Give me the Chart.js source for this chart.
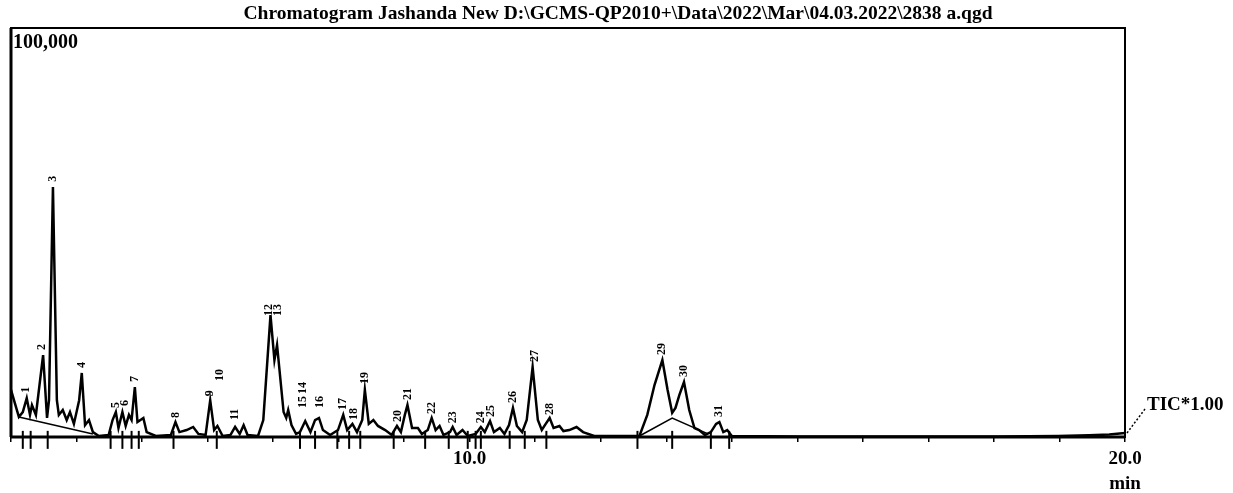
<!DOCTYPE html>
<html>
<head>
<meta charset="utf-8">
<script src="https://cdn.jsdelivr.net/npm/chart.js@4"></script>
<style>
html,body{margin:0;padding:0;background:#fff;}
#wrap{width:1233px;height:493px;position:relative;}
</style>
</head>
<body>
<div id="wrap"><canvas id="c" width="1233" height="493"></canvas></div>
<script>
// ---- data (retention time in min, intensity in counts) ----
const traceTimes = [3.00,3.12,3.18,3.24,3.29,3.32,3.38,3.49,3.55,3.58,3.64,3.70,3.73,3.79,3.85,3.90,3.96,4.04,4.08,4.13,4.19,4.25,4.34,4.49,4.55,4.60,4.64,4.70,4.75,4.80,4.84,4.89,4.93,5.02,5.07,5.21,5.44,5.51,5.57,5.68,5.78,5.86,5.97,6.04,6.10,6.15,6.23,6.35,6.42,6.49,6.55,6.61,6.77,6.85,6.96,7.02,7.06,7.16,7.20,7.23,7.28,7.35,7.41,7.49,7.57,7.64,7.70,7.76,7.87,7.99,8.07,8.13,8.21,8.28,8.36,8.40,8.46,8.53,8.60,8.71,8.81,8.89,8.95,9.01,9.05,9.12,9.21,9.27,9.36,9.42,9.48,9.54,9.60,9.70,9.74,9.80,9.89,9.97,10.09,10.17,10.23,10.31,10.37,10.46,10.53,10.60,10.66,10.72,10.80,10.87,10.96,11.04,11.10,11.16,11.22,11.28,11.37,11.43,11.52,11.63,11.73,11.90,12.59,12.71,12.82,12.94,13.02,13.09,13.14,13.20,13.27,13.35,13.43,13.50,13.59,13.68,13.76,13.81,13.87,13.93,14.00,15.02,16.55,18.07,18.98,19.45,19.76,20.00];
const traceValues = [11500,4900,6100,9500,5400,7800,5400,20000,4650,9000,61100,9000,5400,6600,4150,6100,3200,9000,15650,2900,4150,1200,250,500,4150,6100,2200,6100,2700,5400,4150,12200,3650,4650,1200,250,500,3650,1200,1700,2450,750,500,9000,1700,2700,250,500,2450,750,2900,500,250,4150,29800,18800,22500,6100,4650,6600,2900,750,1200,3900,1200,4150,4650,1700,500,1700,5400,1700,3200,1200,4150,11500,3200,4150,2700,1700,500,2700,1200,5400,7800,2200,2200,750,1700,4650,1700,2700,500,1200,2450,500,1700,250,750,2450,1200,3900,1200,2200,750,2900,7100,2700,1200,4150,17100,4150,1700,3200,4650,2200,2700,1450,1700,2450,1200,250,250,5400,12700,18800,11500,5900,7100,10300,13450,6600,2200,1700,500,1200,3200,3650,1200,1700,250,150,120,150,250,400,600,1000];

// drawn integration baselines (null separates segments)
const baseTimes  = [3.12,4.25,null,12.59,13.09,13.62];
const baseValues = [4900,750,null,250,4600,900];

// integration start/end marks
const markTimes = [3.18,3.30,3.56,4.52,4.70,4.84,4.95,5.48,6.14,7.41,7.64,7.98,8.16,8.33,8.84,9.32,9.68,9.97,10.09,10.17,10.61,10.84,11.17,12.56,13.09,13.68,13.96];

// peak labels
const peakLabels = ['1','2','3','4','5','6','7','8','9','10','11','12','13','14','15','16','17','18','19','20','21','22','23','24','25','26','27','28','29','30','31'];
const peakTimes  = [3.23,3.47,3.64,4.08,4.60,4.74,4.89,5.51,6.04,6.19,6.41,6.93,7.07,7.46,7.46,7.72,8.07,8.24,8.40,8.90,9.05,9.42,9.74,10.17,10.32,10.66,10.99,11.23,12.94,13.27,13.81];
const peakValues = [10300,20800,61900,16400,6600,7100,12950,4150,9500,13200,3650,29100,29100,10000,6600,6600,6100,3650,12500,3200,8550,5150,2900,2900,4400,7800,17850,4900,19550,14200,4400];

const xTickLabels = {10:'10.0', 20:'20.0'};
const titleText = 'Chromatogram Jashanda New D:\\GCMS-QP2010+\\Data\\2022\\Mar\\04.03.2022\\2838 a.qgd';
const yTopLabel = '100,000';
const xUnit = 'min';
const traceName = 'TIC*1.00';

const SERIF = '"Liberation Serif", "DejaVu Serif", serif';

const pts = (xs, ys) => xs.map((x, i) => ({x: x === null ? NaN : x, y: ys[i]}));

const decor = {
  id: 'decor',
  afterDatasetsDraw(chart) {
    const {ctx, chartArea: a, scales: {x, y}} = chart;
    ctx.save();
    // frame
    ctx.strokeStyle = '#000';
    ctx.lineWidth = 2;
    ctx.strokeRect(a.left, a.top, a.right - a.left, a.bottom - a.top);
    ctx.lineWidth = 3;
    ctx.beginPath(); ctx.moveTo(a.left, a.top); ctx.lineTo(a.left, a.bottom); ctx.stroke();
    ctx.lineWidth = 3;
    ctx.beginPath(); ctx.moveTo(a.left, a.bottom); ctx.lineTo(a.right, a.bottom); ctx.stroke();
    // peak labels
    ctx.fillStyle = '#000';
    ctx.font = 'bold 12px ' + SERIF;
    ctx.textAlign = 'left';
    ctx.textBaseline = 'middle';
    peakLabels.forEach((lab, i) => {
      const px = x.getPixelForValue(peakTimes[i]);
      const py = y.getPixelForValue(peakValues[i]) - 2;
      ctx.save();
      ctx.translate(px, py);
      ctx.rotate(-Math.PI / 2);
      ctx.fillText(lab, 0, 0);
      ctx.restore();
    });
    // title
    ctx.font = 'bold 19.5px ' + SERIF;
    ctx.textAlign = 'center';
    ctx.textBaseline = 'middle';
    ctx.fillText(titleText, 618, 14);
    // y top label
    ctx.font = 'bold 20px ' + SERIF;
    ctx.textAlign = 'left';
    ctx.fillText(yTopLabel, a.left + 2, a.top + 15);
    // unit
    ctx.font = 'bold 19px ' + SERIF;
    ctx.textAlign = 'center';
    ctx.fillText(xUnit, a.right, 484);
    // TIC label with dotted leader
    ctx.textAlign = 'left';
    ctx.fillText(traceName, a.right + 22, 405);
    ctx.setLineDash([2, 2]);
    ctx.lineWidth = 1.5;
    ctx.beginPath(); ctx.moveTo(a.right + 2, a.bottom - 4); ctx.lineTo(a.right + 20, 409); ctx.stroke();
    ctx.restore();
  }
};

new Chart(document.getElementById('c'), {
  type: 'line',
  data: {
    datasets: [
      {data: pts(traceTimes, traceValues), borderColor: '#000', borderWidth: 2.5, pointRadius: 0, tension: 0, fill: false},
      {data: pts(baseTimes, baseValues), borderColor: '#000', borderWidth: 1.5, pointRadius: 0, tension: 0, spanGaps: false, fill: false},
      {data: markTimes.map(t => ({x: t, y: -700})), showLine: false, pointStyle: 'line', rotation: 90, pointRadius: 9, borderColor: '#000', pointBorderWidth: 2, clip: false}
    ]
  },
  options: {
    responsive: false,
    animation: false,
    events: [],
    layout: {padding: {left: 10, right: 108, top: 28, bottom: 0}},
    plugins: {legend: {display: false}, tooltip: {enabled: false}, title: {display: false}},
    scales: {
      x: {
        type: 'linear', min: 3, max: 20,
        border: {display: false},
        grid: {drawOnChartArea: false, drawTicks: true, tickLength: 5, color: '#000', lineWidth: 1.5},
        ticks: {
          stepSize: 1, autoSkip: false, maxRotation: 0, padding: 6, color: '#000',
          font: {family: SERIF, size: 19, weight: 'bold'},
          callback: v => xTickLabels[v] || ''
        },
        afterFit: s => { s.height = 56; }
      },
      y: {type: 'linear', min: 0, max: 100000, display: false}
    }
  },
  plugins: [decor]
});
</script>
</body>
</html>
